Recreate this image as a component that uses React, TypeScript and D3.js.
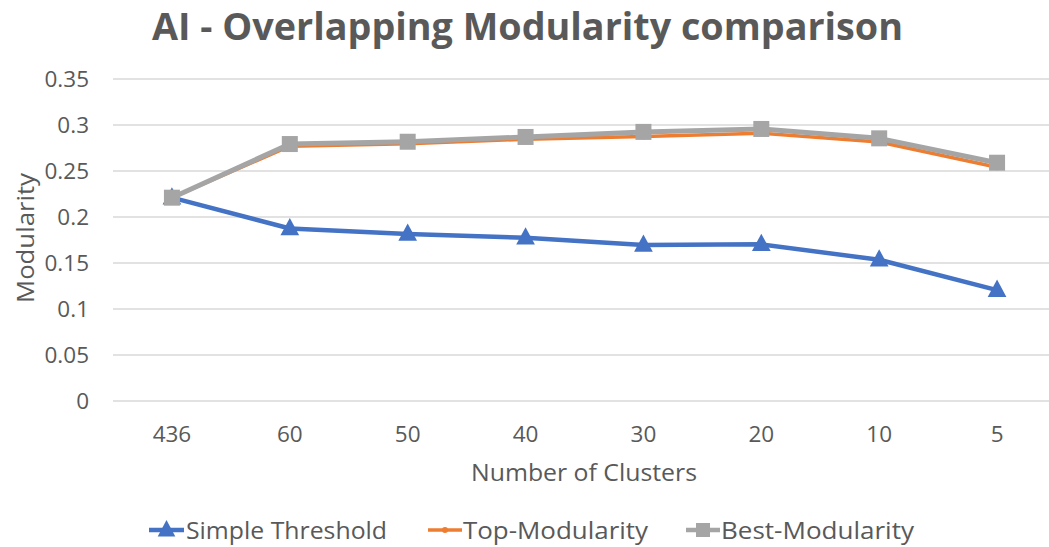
import React from "react";
import * as d3 from "d3";

const categories = ["436", "60", "50", "40", "30", "20", "10", "5"];
const simpleThreshold = [0.221, 0.1875, 0.1815, 0.1775, 0.1695, 0.1703, 0.1535, 0.1205];
const topModularity = [0.221, 0.277, 0.2795, 0.2845, 0.2875, 0.291, 0.2815, 0.254];
const bestModularity = [0.221, 0.2793, 0.2818, 0.287, 0.2925, 0.2957, 0.2855, 0.259];
const yTicks = [0, 0.05, 0.1, 0.15, 0.2, 0.25, 0.3, 0.35];
const yTickLabels = ["0", "0.05", "0.1", "0.15", "0.2", "0.25", "0.3", "0.35"];
const seriesNames = ["Simple Threshold", "Top-Modularity", "Best-Modularity"];

const W = 1049;
const H = 547;
const FONT = "'Open Sans', 'DejaVu Sans', sans-serif";
const TEXT = "#595959";
const BLUE = "#4472C4";
const ORANGE = "#ED7D31";
const GRAY = "#A5A5A5";

export default function App() {
  const x = d3.scaleBand<string>().domain(categories).range([113, 1056]);
  const y = d3.scaleLinear().domain([0, 0.35]).range([401, 79]);
  const cx = (c: string) => (x(c) as number) + x.bandwidth() / 2;
  const line = d3
    .line<number>()
    .x((_, i) => cx(categories[i]))
    .y((d) => y(d));

  const tri = (px: number, py: number, s: number) =>
    `M${px},${py - s * 0.62} L${px + s * 0.55},${py + s * 0.4} L${px - s * 0.55},${py + s * 0.4} Z`;

  const legend = [
    { name: seriesNames[0], color: BLUE, x0: 149, x1: 184, tx: 186, len: 201, kind: "tri" },
    { name: seriesNames[1], color: ORANGE, x0: 428, x1: 462, tx: 463, len: 185, kind: "circle" },
    { name: seriesNames[2], color: GRAY, x0: 686, x1: 720, tx: 721, len: 193, kind: "square" },
  ];
  const ly = 530;

  return (
    <svg
      width={W}
      height={H}
      style={{ position: "absolute", left: 0, top: 0, background: "#fff" }}
      fontFamily={FONT}
    >
      <rect x={0} y={0} width={W} height={H} fill="#fff" />
      <text
        x={152}
        y={40}
        fontSize={38}
        fontWeight="bold"
        fill={TEXT}
        textLength={751}
        lengthAdjust="spacingAndGlyphs"
      >
        AI - Overlapping Modularity comparison
      </text>

      {yTicks.map((t, i) => (
        <g key={t}>
          <line x1={113} x2={W} y1={y(t)} y2={y(t)} stroke="#D9D9D9" strokeWidth={1.3} />
          <text x={89} y={y(t) + 8} textAnchor="end" fontSize={22.5} fill={TEXT}>
            {yTickLabels[i]}
          </text>
        </g>
      ))}

      {categories.map((c) => (
        <text key={c} x={cx(c)} y={442} textAnchor="middle" fontSize={22.5} fill={TEXT}>
          {c}
        </text>
      ))}

      <text
        x={584}
        y={481}
        textAnchor="middle"
        fontSize={24.5}
        fill={TEXT}
        textLength={226}
        lengthAdjust="spacingAndGlyphs"
      >
        Number of Clusters
      </text>
      <text
        transform="translate(34,238) rotate(-90)"
        textAnchor="middle"
        fontSize={24.5}
        fill={TEXT}
        textLength={130}
        lengthAdjust="spacingAndGlyphs"
      >
        Modularity
      </text>

      {/* Simple Threshold */}
      <path d={line(simpleThreshold) as string} fill="none" stroke={BLUE} strokeWidth={4.5} strokeLinejoin="round" />
      {simpleThreshold.map((v, i) => (
        <path key={i} d={tri(cx(categories[i]), y(v), 17)} fill={BLUE} />
      ))}

      {/* Top-Modularity */}
      <path d={line(topModularity) as string} fill="none" stroke={ORANGE} strokeWidth={3.5} strokeLinejoin="round" />
      {topModularity.map((v, i) => (
        <circle key={i} cx={cx(categories[i])} cy={y(v)} r={3} fill={ORANGE} />
      ))}

      {/* Best-Modularity */}
      <path d={line(bestModularity) as string} fill="none" stroke={GRAY} strokeWidth={5} strokeLinejoin="round" />
      {bestModularity.map((v, i) => (
        <rect key={i} x={cx(categories[i]) - 8} y={y(v) - 8} width={16} height={16} fill={GRAY} />
      ))}

      {legend.map((l) => {
        const mx = (l.x0 + l.x1) / 2;
        return (
          <g key={l.name}>
            <line x1={l.x0} x2={l.x1} y1={ly} y2={ly} stroke={l.color} strokeWidth={l.kind === "circle" ? 3.5 : 4.5} />
            {l.kind === "tri" && <path d={tri(mx, ly, 16)} fill={l.color} />}
            {l.kind === "circle" && <circle cx={mx} cy={ly} r={3} fill={l.color} />}
            {l.kind === "square" && <rect x={mx - 7} y={ly - 7} width={14} height={14} fill={l.color} />}
            <text
              x={l.tx}
              y={ly + 8.5}
              fontSize={24}
              fill={TEXT}
              textLength={l.len}
              lengthAdjust="spacingAndGlyphs"
            >
              {l.name}
            </text>
          </g>
        );
      })}
    </svg>
  );
}
